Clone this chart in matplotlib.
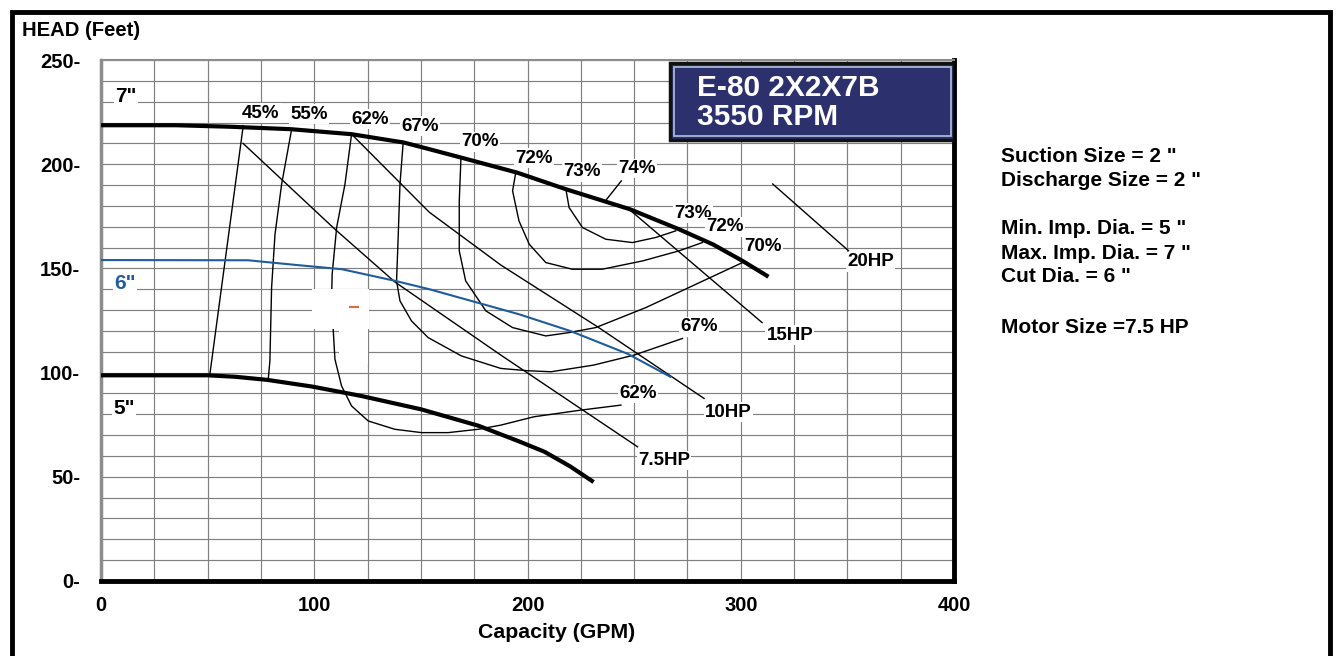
import numpy as np
import matplotlib.pyplot as plt
from matplotlib.patches import Rectangle

plt.rcParams['font.family'] = ['Liberation Sans', 'DejaVu Sans']
plt.rcParams['font.weight'] = 'bold'

# impeller curves, capacity (GPM) vs head (feet)
imp7_q = [0, 35, 60, 89, 117.5, 142, 154, 169.5, 195, 218, 248, 271, 287, 301, 313]
imp7_h = [218.7, 218.7, 218, 216.8, 214.4, 210.4, 207.2, 203, 196, 188, 178.4, 168.8, 161.5, 153.5, 146]
imp6_q = [0, 69, 91, 113, 138, 154, 175, 196, 220, 247, 267]
imp6_h = [154, 153.9, 151.7, 149.6, 144, 140, 134, 128, 120, 109, 98]
imp5_q = [0, 50, 63, 78, 99, 122, 150, 177, 196, 208, 220, 231]
imp5_h = [98.7, 98.7, 98, 96.5, 93.3, 88.8, 82.4, 74.5, 67, 62, 55, 47.5]

# efficiency contours
eff45_q = [66.7, 51.0]
eff45_h = [218.5, 98.8]
eff55_q = [89.4, 84.7, 81.6, 80.0, 79.2, 78.4]
eff55_h = [216.8, 190.4, 166.4, 140.8, 105.6, 96.6]
eff62_q = [117.5, 114.4, 110.5, 108.4, 108.1, 108.9, 109.7, 112.8, 117.5, 125.3, 137.8, 150.3,
           162.8, 176.9, 187.5, 203, 225, 243.8]
eff62_h = [214.4, 190.4, 169.6, 147.2, 134.4, 120.5, 106.4, 93.6, 84, 76.8, 72.8, 71.2,
           71.2, 72.8, 74.8, 78.8, 82, 84.4]
eff67_q = [141.7, 140.2, 139.4, 138.6, 140.2, 145.6, 153.4, 169, 187.5, 200, 211, 231, 250, 272.7]
eff67_h = [210.4, 190.4, 166.4, 144, 134.4, 124.8, 116.8, 108, 102, 100.9, 100.4, 103.6, 108.4, 116.4]
eff70_q = [168.8, 168, 168, 171, 180.5, 193, 208.6, 219.5, 232, 255.5, 279, 300.8]
eff70_h = [203.2, 182.4, 158.4, 144, 129.6, 121.6, 117.6, 119.2, 121.6, 131.2, 142.4, 152.8]
eff72_q = [194.5, 193, 196, 200.8, 208.6, 221, 235, 254, 271, 282]
eff72_h = [196, 187.2, 172.8, 161.6, 152.8, 149.6, 149.6, 153.6, 158.4, 162.4]
eff73_q = [218, 219.5, 225.8, 236.7, 249.2, 260, 269.5]
eff73_h = [188, 179.2, 169.6, 164, 162.4, 164.8, 168]
eff74_q = [237, 244]
eff74_h = [183, 192]

# horsepower lines
hp75_q = [66.6, 109.7, 137.8, 187.5, 251.6]
hp75_h = [210, 168.8, 143.5, 108.4, 64.4]
hp10_q = [117.5, 153.9, 187.5, 232.8, 282.8]
hp10_h = [214.4, 177, 151.6, 122, 87.6]
hp15_q = [247.5, 310]
hp15_h = [178.5, 124]
hp20_q = [315, 350.5]
hp20_h = [190.5, 158.5]

eff_labels = ['45%', '55%', '62%', '67%', '70%', '72%', '73%', '74%', '73%', '72%', '70%', '67%', '62%']
eff_label_q = [74.8, 97.7, 126, 149.6, 177.9, 203.2, 225.7, 251.5, 277.8, 292.5, 310.6, 280.6, 252]
eff_label_h = [224.5, 224, 221.6, 218.2, 210.7, 202.9, 196.3, 198, 176.5, 169.9, 160.3, 121.9, 90]

hp_labels = ['7.5HP', '10HP', '15HP', '20HP']
hp_label_q = [264, 294.2, 323, 360.8]
hp_label_h = [57.9, 81, 118, 153.1]

dia_labels = ['7"', '6"', '5"']
dia_label_q = [11.7, 11.3, 10.8]
dia_label_h = [232.3, 142.9, 82.9]

info_lines = ['Suction Size = 2 "', 'Discharge Size = 2 "', 'Min. Imp. Dia. = 5 "',
              'Max. Imp. Dia. = 7 "', 'Cut Dia. = 6 "', 'Motor Size =7.5 HP']
info_py = [156, 180, 229, 253, 277, 327]

blue = '#1f5c9e'

fig = plt.figure(figsize=(13.4, 6.56), dpi=100)
W, H = 1340, 656
ax = fig.add_axes([101 / W, 75 / H, 853 / W, 521 / H])
ax.set_xlim(0, 400)
ax.set_ylim(0, 250)

ax.set_xticks(np.arange(0, 401, 100))
ax.set_xticks(np.arange(0, 401, 25), minor=True)
ax.set_yticks(np.arange(0, 251, 50))
ax.set_yticks(np.arange(0, 251, 10), minor=True)
ax.set_yticklabels([f'{v}-' for v in range(0, 251, 50)])
ax.tick_params(which='both', length=0)
ax.tick_params(axis='y', pad=15, labelsize=14.5)
ax.tick_params(axis='x', pad=11, labelsize=14.5)
ax.set_axisbelow(True)
ax.grid(which='both', color='#808080', lw=0.85)

ax.spines['left'].set_color('#8c8c8c')
ax.spines['left'].set_linewidth(2.5)
ax.spines['top'].set_color('#8c8c8c')
ax.spines['top'].set_linewidth(1.5)
ax.spines['right'].set_color('black')
ax.spines['right'].set_linewidth(3.5)
ax.spines['bottom'].set_color('black')
ax.spines['bottom'].set_linewidth(3.5)

# blank patch in the middle of the grid
ax.add_patch(Rectangle((111.5, 104), 13.5, 17, facecolor='white', edgecolor='none', zorder=1))
ax.add_patch(Rectangle((99, 121), 26.5, 19, facecolor='white', edgecolor='none', zorder=3))
ax.plot([116.7, 120.5], [131.3, 131.3], color='#e06a3a', lw=1.5, zorder=3.5)

for q, h in [(eff45_q, eff45_h), (eff55_q, eff55_h), (eff62_q, eff62_h), (eff67_q, eff67_h),
             (eff70_q, eff70_h), (eff72_q, eff72_h), (eff73_q, eff73_h), (eff74_q, eff74_h),
             (hp75_q, hp75_h), (hp10_q, hp10_h), (hp15_q, hp15_h), (hp20_q, hp20_h)]:
    ax.plot(q, h, color='black', lw=1.0, zorder=2)

ax.plot(imp7_q, imp7_h, color='black', lw=3.0, zorder=4, solid_capstyle='butt')
ax.plot(imp5_q, imp5_h, color='black', lw=3.0, zorder=4, solid_capstyle='butt')
ax.plot(imp6_q, imp6_h, color=blue, lw=1.5, zorder=4)

box = dict(facecolor='white', edgecolor='none', pad=1.0)
for t, q, h in zip(eff_labels, eff_label_q, eff_label_h):
    ax.text(q, h, t, ha='center', va='center', fontsize=13.5, bbox=box, zorder=5)
for t, q, h in zip(hp_labels, hp_label_q, hp_label_h):
    ax.text(q, h, t, ha='center', va='center', fontsize=13.5, bbox=box, zorder=5)
for t, q, h, c in zip(dia_labels, dia_label_q, dia_label_h, ['black', blue, 'black']):
    ax.text(q, h, t, ha='center', va='center', fontsize=15, color=c, bbox=box, zorder=5)

# model box
ax.add_patch(Rectangle((267, 211.5), 133, 37, facecolor='#2c316d', edgecolor='#111111',
                       lw=2.5, zorder=6))
ax.add_patch(Rectangle((268.6, 213.3), 129.8, 33.4, facecolor='none', edgecolor='#a9b8d4',
                       lw=1.3, zorder=6))
ax.text(279.5, 236.5, 'E-80 2X2X7B', color='white', fontsize=21.5, va='center', zorder=7)
ax.text(279.5, 222.6, '3550 RPM', color='white', fontsize=21.5, va='center', zorder=7)

fig.text(22 / W, 1 - 30 / H, 'HEAD (Feet)', fontsize=14.6, va='center', ha='left')
fig.text(557 / W, 1 - 633 / H, 'Capacity (GPM)', fontsize=15.3, va='center', ha='center')

for t, py in zip(info_lines, info_py):
    fig.text(1001 / W, 1 - py / H, t, fontsize=15, va='center', ha='left')

fig.add_artist(Rectangle((12 / W, -0.05), 1318 / W, 1.05 - 12 / H, transform=fig.transFigure,
                         facecolor='none', edgecolor='black', lw=3.5))

fig.savefig('out.png', dpi=100)
